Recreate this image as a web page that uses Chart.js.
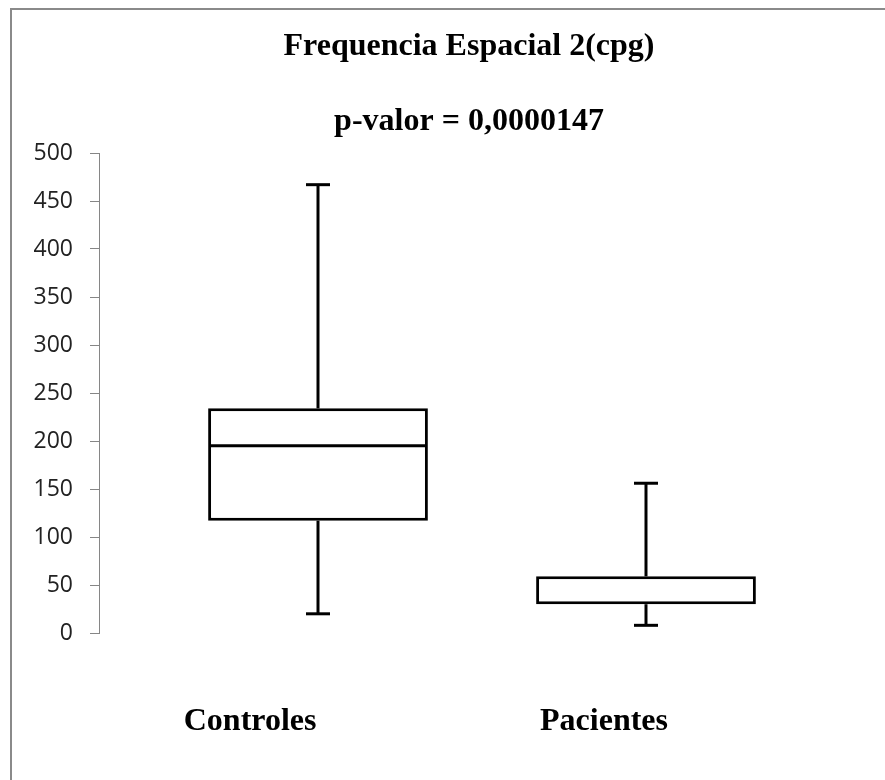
<!DOCTYPE html>
<html>
<head>
<meta charset="utf-8">
<script src="https://cdn.jsdelivr.net/npm/chart.js@4.4.1/dist/chart.umd.min.js"></script>
<style>
  body { margin: 0; background: #fff; overflow: hidden; }
  .wrap { position: relative; width: 885px; height: 780px; overflow: hidden; }
  .frame { position: absolute; left: 10px; top: 8px; right: -20px; bottom: -20px; border-left: 2px solid #8a8a8a; border-top: 2px solid #8a8a8a; }
  canvas { position: absolute; left: 0; top: 0; }
</style>
</head>
<body>
<div class="wrap">
  <div class="frame"></div>
  <canvas id="box-chart" width="918" height="780"></canvas>
</div>
<script>
const categories = ['Controles', 'Pacientes'];
const minValues = [20, 8];
const q1Values = [117, 30];
const medianValues = [195, 30];
const q3Values = [234, 59];
const maxValues = [467, 156];
const labelSpots = [-0.207, 0.872];

const serif = 'Liberation Serif, Times New Roman, serif';

let boxData = categories.map((c, i) => ({x: i, y: [q1Values[i], q3Values[i]]}));

const whiskers = {
    id: 'whiskers',
    afterDatasetsDraw(chart) {
        const ctx = chart.ctx;
        const x = chart.scales.x;
        const y = chart.scales.y;
        const bars = chart.getDatasetMeta(0).data;
        ctx.save();
        ctx.strokeStyle = '#000';
        ctx.lineWidth = 3;
        const line = (x1, y1, x2, y2) => {
            ctx.beginPath();
            ctx.moveTo(x1, y1);
            ctx.lineTo(x2, y2);
            ctx.stroke();
        };
        categories.forEach((c, i) => {
            const px = x.getPixelForValue(i);
            const half = bars[i].width / 2;
            const yMax = y.getPixelForValue(maxValues[i]);
            const yMin = y.getPixelForValue(minValues[i]);
            line(px, y.getPixelForValue(q3Values[i]), px, yMax);
            line(px, y.getPixelForValue(q1Values[i]), px, yMin);
            line(px - 12, yMax, px + 12, yMax);
            line(px - 12, yMin, px + 12, yMin);
            // median sitting on a box edge is already drawn by the border
            if (medianValues[i] !== q1Values[i] && medianValues[i] !== q3Values[i]) {
                const ym = y.getPixelForValue(medianValues[i]);
                line(px - half + 1.5, ym, px + half - 1.5, ym);
            }
        });
        ctx.restore();
    }
};

const chart = new Chart(document.querySelector('#box-chart'), {
    type: 'bar',
    data: {
        datasets: [{
            data: boxData,
            backgroundColor: '#fff',
            borderColor: '#000',
            borderWidth: 3,
            borderSkipped: false,
            categoryPercentage: 1,
            barPercentage: 0.67,
        }]
    },
    options: {
        responsive: false,
        animation: false,
        layout: {padding: {top: 0, left: 20, right: 0, bottom: 0}},
        plugins: {
            legend: {display: false},
            tooltip: {enabled: false},
            title: {
                display: true,
                text: 'Frequencia Espacial 2(cpg)',
                color: '#000',
                font: {family: serif, size: 32, weight: 'bold', lineHeight: 1.25},
                padding: {top: 27, bottom: 0},
            },
            subtitle: {
                display: true,
                text: 'p-valor = 0,0000147',
                color: '#000',
                font: {family: serif, size: 32, weight: 'bold', lineHeight: 1.25},
                padding: {top: 35, bottom: 11},
            },
        },
        scales: {
            x: {
                type: 'linear',
                offset: false,
                min: -0.6677,
                max: 1.8293,
                bounds: 'data',
                grid: {display: false, drawTicks: false, offset: false},
                border: {display: false},
                afterBuildTicks: (s) => { s.ticks = labelSpots.map(v => ({value: v})); },
                afterFit: (s) => { s.height = 147; },
                ticks: {
                    autoSkip: false,
                    maxRotation: 0,
                    padding: 70,
                    color: '#000',
                    font: {family: serif, size: 32, weight: 'bold'},
                    callback: (v, i) => categories[i],
                },
            },
            y: {
                min: 0,
                max: 500,
                afterFit: (s) => { s.width = 79; },
                grid: {drawOnChartArea: false, tickLength: 9, color: '#868686'},
                border: {color: '#868686'},
                ticks: {
                    stepSize: 50,
                    padding: 17,
                    color: '#222',
                    font: {family: 'Open Sans', size: 23},
                },
            },
        },
    },
    plugins: [whiskers],
});
</script>
</body>
</html>
